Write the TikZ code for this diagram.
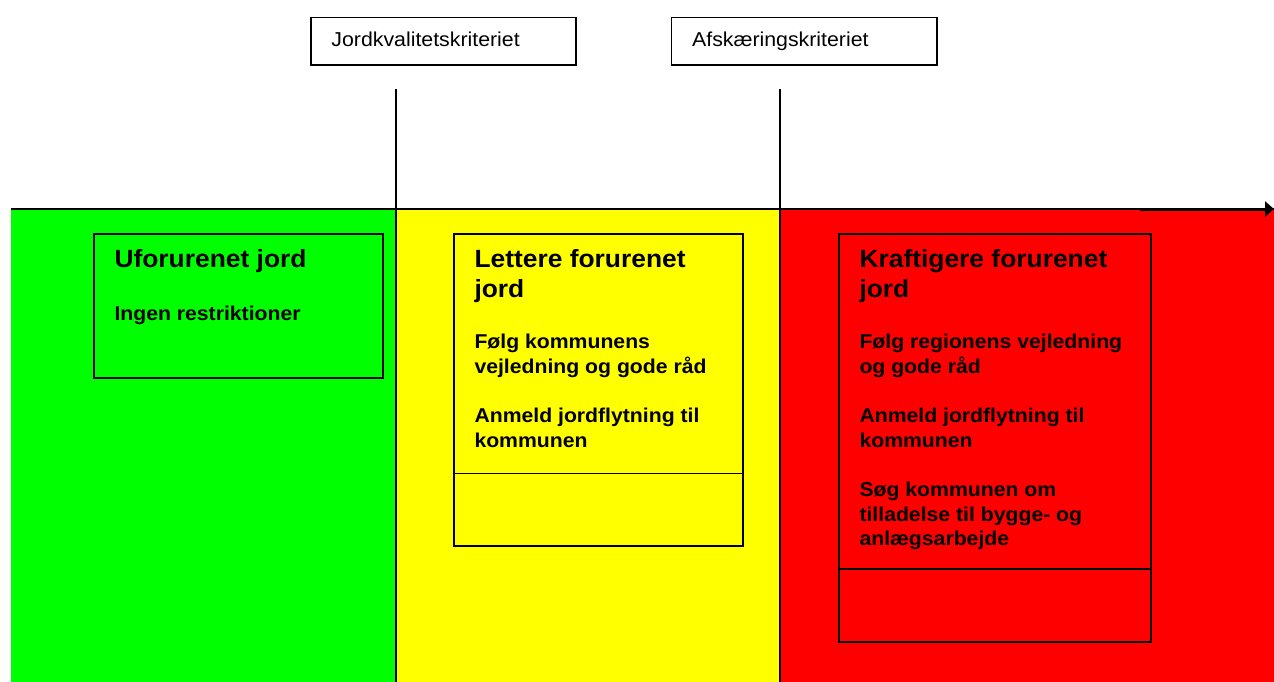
\documentclass[tikz,border=0pt]{standalone}
\usepackage{fontspec}
\setmainfont{Liberation Sans}[FakeStretch=1.06]
\usetikzlibrary{arrows.meta}
\definecolor{bandgreen}{RGB}{0,255,0}
\definecolor{bandyellow}{RGB}{255,255,0}
\definecolor{bandred}{RGB}{255,0,0}
\tikzset{
  band/.style={anchor=north west, inner sep=0pt, minimum height=473pt},
  infobox/.style={draw, line width=1.8pt, anchor=north west, inner sep=0pt},
  titletext/.style={anchor=base west, inner sep=0pt, font=\bfseries\fontsize{24.9}{30}\selectfont},
  bodytext/.style={anchor=base west, inner sep=0pt, font=\bfseries\fontsize{20}{24.7}\selectfont},
  critlabel/.style={draw, line width=1.5pt, anchor=north west, inner ysep=0pt, inner xsep=20.7pt,
    text width=224pt, align=left, minimum height=47.6pt, text height=14pt, text depth=4pt,
    font=\fontsize{20.1}{23}\selectfont},
  rule/.style={line width=1.6pt}
}
\begin{document}
\begin{tikzpicture}[x=1pt,y=-1pt]
\useasboundingbox (0,0) rectangle (1274,682);
% bands
\node[band, fill=bandgreen, minimum width=385pt] (green) at (11,209) {};
\node[band, fill=bandyellow, minimum width=384pt] (yellow) at (396,209) {};
\node[band, fill=bandred, minimum width=494pt] (red) at (780,209) {};
% top line and arrow
\draw[rule] (green.north west) -- (red.north east);
\coordinate (arrowstart) at (1140,209);
\coordinate (arrowend) at (1274,209);
\draw[line width=3pt, -{Triangle[length=9pt,width=15pt]}] (arrowstart) -- (arrowend);
% criteria labels
\node[critlabel] (jk) at (310,16.7) {Jordkvalitetskriteriet};
\node[critlabel] (ak) at (670.7,16.7) {Afskæringskriteriet};
% vertical lines
\coordinate (v1top) at (396,89);
\coordinate (v1bot) at (396,682);
\coordinate (v2top) at (780,89);
\coordinate (v2bot) at (780,682);
\draw[rule] (v1top) -- (v1bot);
\draw[rule] (v2top) -- (v2bot);
% green box
\node[infobox, minimum width=288.7pt, minimum height=143.4pt] (gbox) at (93,233.3) {};
\node[titletext] (gtitle) at (114.3,267.3) {Uforurenet jord};
\node[bodytext] (gbody) at (114.3,320) {Ingen restriktioner};
% yellow box
\node[infobox, minimum width=288.4pt, minimum height=311.7pt] (ybox) at (453.3,233.3) {};
\draw[rule] (ybox.west |- {(0,473.3)}) -- (ybox.east |- {(0,473.3)});
\node[titletext] (ytitle) at (474.3,267.5) {\vtop{\hbox{Lettere forurenet}\hbox{jord}}};
\node[bodytext] (ybody) at (474.3,348.3) {\vtop{\hbox{Følg kommunens}\hbox{vejledning og gode råd}\vskip24.6pt\hbox{Anmeld jordflytning til}\hbox{kommunen}}};
% red box
\node[infobox, minimum width=312.3pt, minimum height=407.4pt] (rbox) at (837.7,233.3) {};
\draw[rule] (rbox.west |- {(0,569)}) -- (rbox.east |- {(0,569)});
\node[titletext] (rtitle) at (859.3,267.7) {\vtop{\hbox{Kraftigere forurenet}\hbox{jord}}};
\node[bodytext] (rbody) at (859.3,348.3) {\vtop{\hbox{Følg regionens vejledning}\hbox{og gode råd}\vskip24.6pt\hbox{Anmeld jordflytning til}\hbox{kommunen}\vskip24.6pt\hbox{Søg kommunen om}\hbox{tilladelse til bygge- og}\hbox{anlægsarbejde}}};
\end{tikzpicture}
\end{document}
